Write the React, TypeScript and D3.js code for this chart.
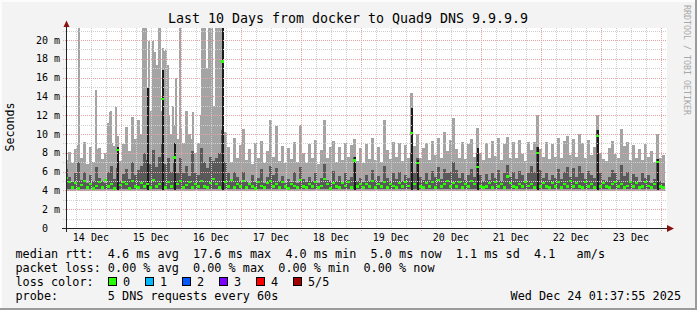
import React from 'react';
import * as d3 from 'd3';

const W = 697;
const H = 310;
const TITLE = 'Last 10 Days from docker to Quad9 DNS 9.9.9.9';
const START = new Date(Date.UTC(2025, 11, 14, 1, 37, 55));
const END = new Date(Date.UTC(2025, 11, 24, 1, 37, 55));
const STEP_MIN = 72; // minutes per consolidated column
const RTT_FLOOR = 3.9; // ms, lowest ping of the smoke
const DARK_FLOOR = 4.1;

// light smoke top (max ping), ms
const SMOKE_MAX = [
  7.2, 8.1, 6.9, 8.4, 8.8, 7.4, 9.1, 6.8, 8.6, 7.0,
  8.4, 8.5, 7.3, 8.0, 11.2, 9.0, 8.7, 9.8, 7.1, 8.9,
  10.7, 8.2, 11.8, 9.5, 11.5, 10.0, 12.0, 11.0, 12.5, 10.5,
  12.0, 11.0, 12.5, 11.5, 12.0, 10.0, 11.0, 9.5, 10.5, 9.0,
  12.5, 10.0, 9.5, 8.0, 9.0, 12.0, 11.0, 12.5, 10.5, 13.0,
  21.5, 21.5, 21.5, 10.2, 8.6, 7.0, 9.6, 7.4, 8.8, 10.5,
  7.2, 8.4, 6.8, 9.0, 7.5, 9.3, 6.9, 8.2, 11.5, 7.6,
  10.8, 7.1, 8.7, 6.9, 8.5, 7.3, 9.2, 7.0, 11.0, 8.0,
  6.9, 8.9, 7.4, 9.4, 6.8, 8.3, 11.5, 7.5, 8.6, 9.3,
  7.0, 8.6, 7.2, 9.0, 7.6, 8.8, 9.5, 7.1, 8.5, 6.9,
  8.9, 7.3, 9.6, 7.2, 8.6, 7.0, 11.5, 8.3, 7.3, 9.2,
  7.6, 9.0, 7.1, 8.8, 7.5, 14.4, 8.7, 10.0, 7.4, 8.5,
  9.0, 7.2, 9.3, 7.8, 9.6, 7.4, 10.2, 8.2, 9.4, 11.7,
  8.4, 7.5, 9.2, 7.3, 8.9, 9.5, 7.6, 10.6, 8.0, 7.2,
  9.0, 7.4, 9.3, 7.7, 9.6, 7.2, 8.9, 9.7, 7.5, 9.2,
  7.4, 9.4, 7.9, 7.1, 9.1, 8.3, 9.2, 12.0, 8.4, 7.6,
  9.2, 7.3, 8.9, 7.6, 9.6, 7.4, 9.3, 9.8, 7.8, 9.5,
  7.6, 10.0, 9.0, 7.4, 9.4, 7.8, 8.6, 12.0, 8.0, 7.3,
  7.1, 8.5, 9.3, 7.9, 7.4, 10.5, 8.7, 9.2, 7.2, 8.8,
  7.5, 8.4, 7.2, 8.9, 7.6, 8.2, 7.0, 10.0, 7.4, 7.8,
];

// dark smoke top (2nd highest ping), ms
const SMOKE_MID = [
  6.3, 5.4, 4.9, 5.8, 7.0, 5.1, 6.0, 4.8, 5.6, 5.0,
  6.5, 5.3, 5.0, 4.8, 6.0, 6.6, 5.2, 6.4, 5.0, 5.7,
  6.3, 5.2, 7.0, 5.6, 6.2, 6.6, 8.0, 7.2, 6.8, 8.3,
  6.5, 7.6, 9.0, 6.8, 7.4, 6.0, 7.0, 5.9, 7.5, 5.8,
  6.6, 5.5, 8.2, 5.8, 5.6, 8.5, 7.0, 6.4, 7.6, 7.1,
  7.5, 8.0, 10.4, 7.0, 5.8, 5.2, 6.0, 5.4, 5.0, 6.0,
  5.0, 4.8, 5.6, 4.9, 5.3, 6.3, 4.8, 5.4, 6.6, 5.6,
  6.4, 5.0, 5.5, 4.8, 5.2, 4.9, 6.0, 4.8, 6.5, 5.2,
  4.9, 5.4, 5.0, 5.9, 4.8, 5.3, 6.8, 5.1, 5.0, 6.1,
  5.0, 5.5, 4.8, 5.8, 5.1, 5.4, 7.6, 5.0, 5.3, 4.9,
  5.6, 5.0, 6.2, 5.1, 5.5, 4.9, 6.6, 5.3, 5.0, 5.9,
  5.2, 6.0, 5.0, 5.6, 5.3, 8.0, 5.9, 7.4, 5.4, 5.1,
  5.8, 5.1, 6.1, 5.4, 6.5, 5.2, 6.3, 5.8, 6.0, 7.0,
  6.2, 5.3, 5.8, 5.1, 5.6, 6.3, 5.4, 8.0, 5.6, 5.0,
  5.7, 5.1, 5.9, 5.3, 6.2, 5.0, 5.8, 6.7, 5.4, 6.0,
  5.2, 6.1, 5.6, 5.0, 5.8, 6.6, 6.0, 8.6, 6.2, 5.3,
  5.9, 5.1, 5.6, 5.3, 6.3, 5.2, 6.0, 6.5, 5.4, 6.4,
  5.4, 6.6, 5.8, 5.2, 6.1, 5.6, 5.3, 10.4, 5.8, 5.1,
  5.0, 5.4, 6.2, 5.9, 5.1, 6.7, 5.5, 6.0, 5.0, 5.7,
  5.4, 4.9, 5.8, 5.3, 5.6, 4.8, 5.2, 7.3, 5.0, 4.8,
];

// median rtt, ms
const MEDIAN = [
  5.3, 4.9, 4.3, 4.8, 4.2, 4.6, 5.0, 4.3, 4.7, 4.2,
  4.5, 4.9, 4.3, 5.1, 4.4, 4.7, 4.2, 8.3, 4.6, 4.9,
  4.7, 4.2, 5.0, 4.4, 4.3, 4.8, 4.4, 4.7, 4.3, 5.1,
  4.4, 4.7, 13.7, 4.3, 4.9, 4.4, 7.5, 4.7, 5.0, 4.3,
  4.6, 4.9, 4.3, 4.7, 4.4, 5.0, 4.4, 4.3, 4.8, 5.2,
  4.7, 4.3, 17.7, 4.9, 4.4, 5.1, 4.3, 4.7, 4.4, 5.0,
  4.3, 4.7, 4.4, 4.2, 4.9, 4.5, 4.3, 4.8, 5.0, 4.4,
  4.7, 4.3, 4.9, 4.4, 4.2, 4.7, 4.5, 4.3, 5.1, 4.4,
  4.3, 4.7, 4.4, 4.9, 4.3, 4.5, 5.2, 4.7, 4.2, 4.8,
  4.4, 4.3, 4.8, 4.5, 4.9, 4.3, 7.2, 4.4, 4.7, 4.3,
  4.7, 4.4, 5.0, 4.3, 4.7, 4.4, 4.9, 4.3, 4.7, 4.5,
  4.3, 4.8, 4.4, 4.9, 4.5, 10.1, 4.7, 6.9, 4.4, 4.3,
  4.8, 4.4, 4.9, 4.3, 5.1, 4.4, 4.7, 5.0, 4.4, 4.8,
  4.4, 4.9, 4.3, 4.7, 4.4, 5.0, 4.7, 6.5, 4.4, 4.3,
  4.4, 4.8, 4.3, 4.9, 4.4, 4.7, 4.3, 5.5, 4.8, 4.4,
  4.3, 4.7, 4.4, 4.9, 4.5, 4.7, 4.3, 8.0, 4.4, 4.8,
  4.4, 4.3, 4.8, 4.4, 4.9, 4.3, 4.7, 4.4, 5.0, 4.4,
  4.8, 4.4, 4.3, 4.9, 4.4, 4.7, 4.3, 9.8, 4.4, 4.8,
  4.4, 4.3, 4.7, 4.9, 4.4, 4.7, 4.3, 4.5, 4.9, 4.4,
  4.8, 4.3, 4.4, 4.9, 4.5, 4.3, 4.7, 7.0, 4.4, 4.3,
];

// single-sample max-ping peaks: hours after START, and height in ms
const PEAK_HOUR = [
  5.6, 12.3, 18.0, 18.4, 20.3, 31.2, 31.8, 32.4, 33.6, 35.2, 36.0, 36.8, 37.4, 38.0,
  39.2, 39.8, 40.4, 41.2, 43.2, 44.4, 46.0, 51.2, 54.8, 55.4, 56.0, 56.8, 57.4, 58.2, 58.8,
];
const PEAK_TOP = [
  21.5, 14.7, 12.3, 12.5, 12.9, 21.5, 21.5, 21.5, 19.9, 19.9, 18.7, 17.3, 21.5, 21.5,
  19.2, 18.8, 18.9, 17.3, 13.0, 16.0, 21.5, 12.3, 21.5, 21.5, 21.5, 17.0, 21.5, 21.5, 21.5,
];

// columns where all pings rose together (dark core), and its top in ms
const SPIKE_COL = [17, 27, 32, 36, 52, 96, 115, 117, 137, 157, 177, 197];
const SPIKE_TOP = [8.6, 14.9, 16.8, 9.0, 21.5, 7.6, 12.8, 7.2, 8.5, 8.6, 10.4, 7.3];

const Y_LABELS = [0, 2, 4, 6, 8, 10, 12, 14, 16, 18, 20];
const Y_MINOR = [1, 3, 5, 7, 9, 11, 13, 15, 17, 19, 21];

const LOSS_LABELS = ['0', '1', '2', '3', '4', '5/5'];
const LOSS_COLORS = ['#26ff00', '#00b8ff', '#0059ff', '#7e00ff', '#ff0000', '#a10000'];

const LEGEND_RTT = 'median rtt:  4.6 ms avg  17.6 ms max  4.0 ms min  5.0 ms now  1.1 ms sd  4.1   am/s';
const LEGEND_LOSS = 'packet loss: 0.00 % avg  0.00 % max  0.00 % min  0.00 % now';
const LEGEND_PROBE = 'probe:       5 DNS requests every 60s';
const STAMP = 'Wed Dec 24 01:37:55 2025';

const MONO = '"DejaVu Sans Mono", monospace';

export default function App() {
  const x = d3.scaleUtc().domain([START, END]).range([65, 665]);
  const y = d3.scaleLinear().domain([0, 21.28]).range([228, 28]);

  const colTime = (i: number) => d3.utcMinute.offset(START, i * STEP_MIN);
  const cols = SMOKE_MAX.map((v, i) => {
    const x0 = x(colTime(i));
    const x1 = x(colTime(i + 1));
    return { i, x0, w: x1 - x0, max: v, mid: SMOKE_MID[i], med: MEDIAN[i] };
  });
  const peaks = PEAK_HOUR.map((h, k) => ({
    x: x(d3.utcMinute.offset(START, Math.round(h * 60))),
    top: PEAK_TOP[k],
  }));

  const majors = d3.utcDay.range(d3.utcDay.ceil(START), END);
  const minors = d3.utcHour.every(6)!.range(START, END).filter((d) => d.getUTCHours() !== 0);
  const dayLabels = d3.utcDay.range(d3.utcDay.floor(START), d3.utcDay.floor(END));
  const fmt = d3.utcFormat('%d %b');

  const cx0 = 66, cx1 = 667, cy0 = 28, cy1 = 228;

  return (
    <svg width={W} height={H} style={{ position: 'absolute', left: 0, top: 0 }} xmlns="http://www.w3.org/2000/svg">
      <defs>
        <clipPath id="canvas">
          <rect x={cx0 + 1} y={cy0} width={cx1 - cx0 - 1} height={cy1 - cy0} />
        </clipPath>
      </defs>
      <rect x={0} y={0} width={W} height={H} fill="#f3f3f3" />
      <rect x={0} y={0} width={W} height={2} fill="#fcfcfc" />
      <rect x={0} y={0} width={2} height={H} fill="#fcfcfc" />
      <rect x={0} y={H - 2} width={W} height={2} fill="#9b9b9b" />
      <rect x={W - 2} y={0} width={2} height={H} fill="#9b9b9b" />

      <rect x={cx0} y={cy0} width={cx1 - cx0} height={cy1 - cy0} fill="#ffffff" />

      <g clipPath="url(#canvas)" shapeRendering="crispEdges">
        {cols.map((c) => (
          <rect key={'l' + c.i} x={c.x0} y={y(c.max)} width={c.w} height={y(RTT_FLOOR) - y(c.max)} fill="#a4a4a4" />
        ))}
        {peaks.map((p, k) => (
          <rect key={'p' + k} x={p.x - 1} y={y(p.top)} width={2} height={y(RTT_FLOOR) - y(p.top)} fill="#a4a4a4" />
        ))}
        {cols.map((c) => (
          <rect key={'d' + c.i} x={c.x0} y={y(c.mid)} width={c.w} height={y(DARK_FLOOR) - y(c.mid)} fill="#595959" />
        ))}
        {SPIKE_COL.map((ci, k) => {
          const c = cols[ci];
          return (
            <rect key={'s' + k} x={c.x0 + 1} y={y(SPIKE_TOP[k])} width={2} height={y(4.0) - y(SPIKE_TOP[k])} fill="#1c1c1c" />
          );
        })}
      </g>

      {/* grid */}
      <g shapeRendering="crispEdges" strokeWidth={1}>
        {minors.map((d, k) => (
          <line key={'vm' + k} x1={Math.round(x(d)) + 0.5} x2={Math.round(x(d)) + 0.5} y1={cy0} y2={cy1 + 3} stroke="#cfcfcf" strokeDasharray="1,1" />
        ))}
        {majors.map((d, k) => (
          <line key={'vM' + k} x1={Math.round(x(d)) + 0.5} x2={Math.round(x(d)) + 0.5} y1={cy0} y2={cy1 + 3} stroke="#e6a3a3" strokeDasharray="1,1" />
        ))}
        {Y_MINOR.map((v) => (
          <line key={'hm' + v} x1={cx0 - 3} x2={cx1} y1={Math.round(y(v)) + 0.5} y2={Math.round(y(v)) + 0.5} stroke="#cfcfcf" strokeDasharray="1,1" />
        ))}
        {Y_LABELS.filter((v) => v > 0).map((v) => (
          <line key={'hM' + v} x1={cx0 - 3} x2={cx1} y1={Math.round(y(v)) + 0.5} y2={Math.round(y(v)) + 0.5} stroke="#e6a3a3" strokeDasharray="1,1" />
        ))}
      </g>

      {/* median, coloured by loss */}
      <g clipPath="url(#canvas)" shapeRendering="crispEdges">
        {cols.map((c) => (
          <rect key={'m' + c.i} x={c.x0} y={y(c.med) - 1.2} width={c.w} height={2.4} fill={LOSS_COLORS[0]} />
        ))}
      </g>

      {/* axes */}
      <g shapeRendering="crispEdges">
        <line x1={62} x2={668} y1={228.5} y2={228.5} stroke="#222" />
        <line x1={66.5} x2={66.5} y1={232} y2={24} stroke="#222" />
      </g>
      <polygon points="63.5,27 69.5,27 66.5,20.5" fill="#8b1111" />
      <polygon points="667,225 667,232 674,228.5" fill="#8b1111" />

      {/* y labels */}
      <g fontFamily={MONO} fontSize={10} fill="#000">
        {Y_LABELS.map((v) => (
          <text key={'yl' + v} x={v === 0 ? 48 : 60} y={y(v) + 3.6} textAnchor="end">
            {v === 0 ? '0' : `${v} m`}
          </text>
        ))}
        {dayLabels.map((d, k) => (
          <text key={'xl' + k} x={x(d3.utcHour.offset(d, 12))} y={241} textAnchor="middle">
            {fmt(d)}
          </text>
        ))}
      </g>

      <text x={348} y={23} textAnchor="middle" fontFamily={MONO} fontSize={13.3} fill="#000">
        {TITLE}
      </text>
      <text transform="translate(14,127) rotate(-90)" textAnchor="middle" fontFamily={MONO} fontSize={11.6} fill="#000">
        Seconds
      </text>
      <text transform="translate(684,5) rotate(90)" fontFamily={MONO} fontSize={8.3} fill="#a8a8a8">
        RRDTOOL / TOBI OETIKER
      </text>

      <g fontFamily={MONO} fontSize={11.8} fill="#000">
        <text xmlSpace="preserve" x={15.5} y={258}>{LEGEND_RTT}</text>
        <text xmlSpace="preserve" x={15.5} y={272.3}>{LEGEND_LOSS}</text>
        <text xmlSpace="preserve" x={15.5} y={286.3}>{'loss color:'}</text>
        <text xmlSpace="preserve" x={15.5} y={300.3}>{LEGEND_PROBE}</text>
        <text xmlSpace="preserve" x={681} y={300.3} textAnchor="end">{STAMP}</text>
        {LOSS_LABELS.map((lab, k) => (
          <g key={'lc' + k}>
            <rect x={108.5 + 37 * k} y={277.5} width={8} height={8} fill={LOSS_COLORS[k]} stroke="#000" strokeWidth={1} shapeRendering="crispEdges" />
            <text x={123 + 37 * k} y={286.3}>{lab}</text>
          </g>
        ))}
      </g>
    </svg>
  );
}
